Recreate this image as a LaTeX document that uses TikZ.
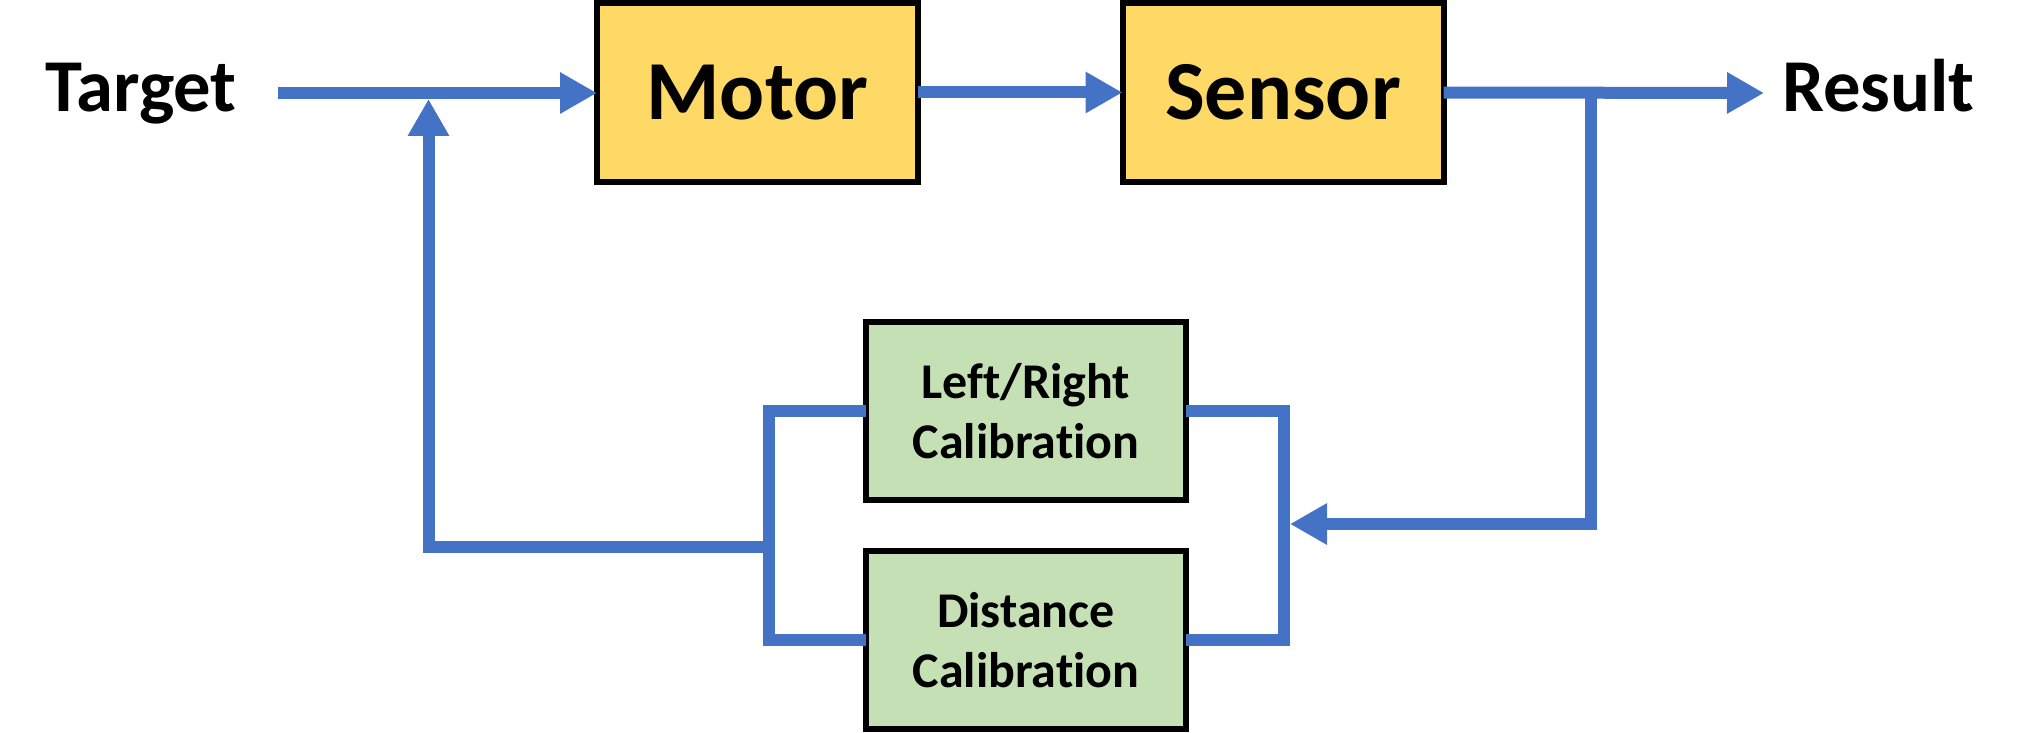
\documentclass[tikz,border=0pt]{standalone}
\usepackage{fontspec}
\setmainfont{Carlito}[Ligatures={NoCommon,NoContextual}]
\usetikzlibrary{arrows.meta,calc}
\definecolor{lineblue}{HTML}{4472C4}
\definecolor{boxyellow}{HTML}{FFD966}
\definecolor{boxgreen}{HTML}{C5E0B4}
\tikzset{
  flow/.style={draw=lineblue, line width=6pt},
  arr/.style={-{Triangle[length=18.5pt,width=19.5pt]}},
  mainbox/.style={draw=black, line width=3pt, fill=boxyellow, minimum width=160.5pt, minimum height=89.5pt, inner sep=0pt, outer sep=0pt, font=\fontsize{42}{50}\selectfont\bfseries},
  calbox/.style={draw=black, line width=3pt, fill=boxgreen, minimum width=160pt, minimum height=89pt, inner sep=0pt, outer sep=0pt, align=center, font=\fontsize{25}{30}\selectfont\bfseries},
  lbl/.style={font=\fontsize{37.3}{44}\selectfont\bfseries, inner sep=0pt}
}
\begin{document}
\begin{tikzpicture}[x=0.5pt,y=-0.5pt]
\useasboundingbox (0,0) rectangle (2020,733);
% nodes
\node[lbl, anchor=base] (target) at (141,112) {Target};
\node[mainbox] (motor) at (757.5,92.5) {Motor};
\node[mainbox] (sensor) at (1283,92.5) {Sensor};
\node[lbl, anchor=base] (result) at (1878.5,112) {Result};
\node[calbox] (lr) at (1026,411) {Left/Right\\Calibration};
\node[calbox] (dist) at (1026,640) {Distance\\Calibration};
% coordinates
\coordinate (start) at (278,93);
\coordinate (resend) at (1764,93);
\coordinate (split) at (1591,93);
\coordinate (rbar) at (1283.5,524);
\coordinate (lbar) at (769,547);
\coordinate (fb) at (428.5,547);
\coordinate (j1) at (428.5,93);
% connectors
\draw[flow,arr] (start) -- (start -| motor.west);
\draw[flow,arr] (motor.east) -- (sensor.west);
\draw[flow,arr] (sensor.east) -- (resend);
\draw[flow,arr] (split) -- (split |- rbar) -- ($(rbar)+(6.5,0)$);
\draw[flow] (lr.east) -- (lr.east -| rbar) -- (dist.east -| rbar) -- (dist.east);
\draw[flow] (lr.west) -- (lr.west -| lbar) -- (dist.west -| lbar) -- (dist.west);
\draw[flow,arr] (lbar) -- (fb) -- ($(j1)+(0,6)$);
\end{tikzpicture}
\end{document}
